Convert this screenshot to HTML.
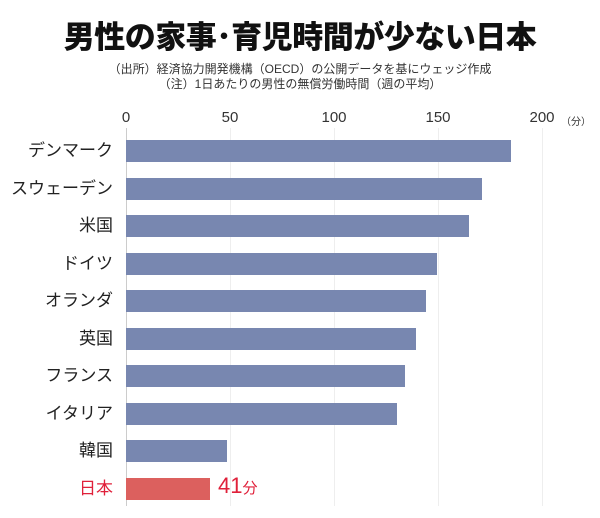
<!DOCTYPE html>
<html><head><meta charset="utf-8"><style>
body{margin:0;width:600px;height:518px;background:#fff;font-family:"Liberation Sans","Noto Sans CJK JP",sans-serif;position:relative;overflow:hidden}
.a{position:absolute;white-space:nowrap}
.t{left:0;width:600px;text-align:center;top:12px;font-size:31px;font-weight:900;color:#111;letter-spacing:-0.5px}
.s{left:0;width:600px;text-align:center;font-size:12px;color:#333}
.tick{top:109px;font-size:15px;color:#333;transform:translateX(-50%)}
.g{top:128px;height:378px;width:1px;background:#eee}
.bar{height:22px;left:126px;background:#7887b0}
.lab{right:487px;font-size:17px;line-height:22px;color:#222;text-align:right}
</style></head><body>
<div class="a t">男性の家事･育児時間が少ない日本</div>
<div class="a s" style="top:60px">（出所）経済協力開発機構（OECD）の公開データを基にウェッジ作成</div>
<div class="a s" style="top:75px">（注）1日あたりの男性の無償労働時間（週の平均）</div>
<div class="a tick" style="left:126px">0</div>
<div class="a tick" style="left:230px">50</div>
<div class="a tick" style="left:334px">100</div>
<div class="a tick" style="left:438px">150</div>
<div class="a tick" style="left:542px">200</div>
<div class="a" style="left:561px;top:113px;font-size:10px;color:#333">（分）</div>
<div class="a g" style="left:126px;background:#ccc"></div>
<div class="a g" style="left:230px"></div>
<div class="a g" style="left:334px"></div>
<div class="a g" style="left:438px"></div>
<div class="a g" style="left:542px"></div>
<div class="a bar" style="top:140px;width:385px"></div><div class="a lab" style="top:140px">デンマーク</div>
<div class="a bar" style="top:178px;width:356px"></div><div class="a lab" style="top:178px">スウェーデン</div>
<div class="a bar" style="top:215px;width:343px"></div><div class="a lab" style="top:215px">米国</div>
<div class="a bar" style="top:253px;width:311px"></div><div class="a lab" style="top:253px">ドイツ</div>
<div class="a bar" style="top:290px;width:300px"></div><div class="a lab" style="top:290px">オランダ</div>
<div class="a bar" style="top:328px;width:290px"></div><div class="a lab" style="top:328px">英国</div>
<div class="a bar" style="top:365px;width:279px"></div><div class="a lab" style="top:365px">フランス</div>
<div class="a bar" style="top:403px;width:271px"></div><div class="a lab" style="top:403px">イタリア</div>
<div class="a bar" style="top:440px;width:101px"></div><div class="a lab" style="top:440px">韓国</div>
<div class="a bar" style="top:478px;width:84px;background:#dc605e"></div><div class="a lab" style="top:478px;color:#e0203a">日本</div>
<div class="a" style="left:218px;top:473px;font-size:22px;color:#e0203a">41<span style="font-size:15px">分</span></div>
</body></html>
